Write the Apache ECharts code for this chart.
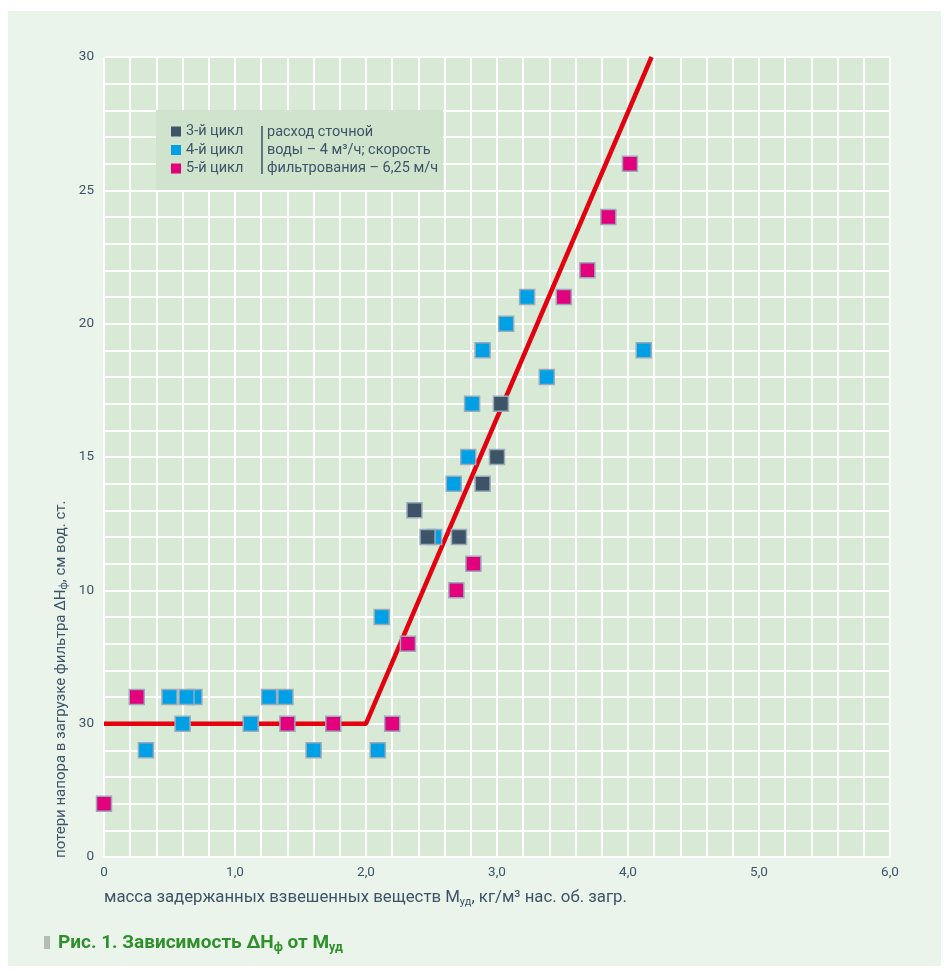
<!DOCTYPE html>
<html>
<head>
<meta charset="utf-8">
<script src="https://cdn.jsdelivr.net/npm/echarts@6/dist/echarts.min.js"></script>
<style>
  html, body { margin: 0; padding: 0; background: #ffffff; }
  #chart { width: 947px; height: 972px; }
</style>
</head>
<body>
<div id="chart"></div>
<script>
// Scatter measurements per filtration cycle: [M_уд, ΔH_ф]
const cycle3 = [[2.37, 13], [2.47, 12], [2.71, 12], [2.89, 14], [3.0, 15], [3.03, 17]];
const cycle4 = [[0.32, 4], [0.50, 6], [0.69, 6], [0.63, 6], [0.60, 5], [1.12, 5], [1.26, 6], [1.385, 6],
                [1.60, 4], [2.09, 4], [2.12, 9], [2.52, 12], [2.67, 14], [2.78, 15], [2.81, 17],
                [2.89, 19], [3.07, 20], [3.23, 21], [3.38, 18], [4.12, 19]];
const cycle5 = [[0, 2], [0.25, 6], [1.40, 5], [1.75, 5], [2.20, 5], [2.32, 8], [2.69, 10], [2.82, 11],
                [3.51, 21], [3.69, 22], [3.85, 24], [4.015, 26]];
// Approximating broken line
const trend = [[0, 5], [2.0, 5], [4.18, 30]];

// Axis tick labels
const xTickLabels = ['0', '1,0', '2,0', '3,0', '4,0', '5,0', '6,0'];
const yTickLabels = ['0', '30', '10', '15', '20', '25', '30'];

const seriesNames = ['3-й цикл', '4-й цикл', '5-й цикл'];
const seriesColors = ['#3d5468', '#00a0e6', '#e2007d'];

const textColor = '#3d5468';
const fontFamily = 'Roboto, "Noto Sans", sans-serif';

const chart = echarts.init(document.getElementById('chart'), null, { renderer: 'canvas' });

function scatter(name, data, color, z) {
  return {
    name: name,
    type: 'scatter',
    data: data,
    symbol: 'rect',
    symbolSize: 15,
    z: z,
    clip: false,
    itemStyle: { color: color, opacity: 1, borderColor: '#9aabbb', borderWidth: 1.5 },
    emphasis: { disabled: true }
  };
}

const option = {
  backgroundColor: '#ffffff',
  animation: false,
  textStyle: { fontFamily: fontFamily },
  grid: {
    left: 104, right: 57, top: 57, bottom: 115,
    show: true, backgroundColor: '#d8e9d5', borderWidth: 0
  },
  xAxis: {
    type: 'value', min: 0, max: 6, interval: 1,
    axisLine: { show: false }, axisTick: { show: false },
    axisLabel: {
      color: textColor, fontSize: 13.5, margin: 9, fontFamily: fontFamily,
      formatter: (v) => xTickLabels[Math.round(v)]
    },
    splitLine: { show: true, lineStyle: { color: '#ffffff', width: 2 } },
    minorTick: { show: false, splitNumber: 5 },
    minorSplitLine: { show: true, lineStyle: { color: '#ffffff', width: 2 } }
  },
  yAxis: {
    type: 'value', min: 0, max: 30, interval: 5,
    axisLine: { show: false }, axisTick: { show: false },
    axisLabel: {
      color: textColor, fontSize: 13.5, margin: 10, fontFamily: fontFamily,
      formatter: (v) => yTickLabels[Math.round(v / 5)]
    },
    splitLine: { show: true, lineStyle: { color: '#ffffff', width: 2 } },
    minorTick: { show: false, splitNumber: 5 },
    minorSplitLine: { show: true, lineStyle: { color: '#ffffff', width: 2 } }
  },
  legend: {
    data: seriesNames,
    orient: 'vertical',
    left: 171, top: 124,
    padding: 0,
    itemWidth: 10, itemHeight: 10, itemGap: 3.5,
    icon: 'rect',
    z: 20,
    selectedMode: false,
    itemStyle: { borderWidth: 0 },
    textStyle: { color: textColor, fontSize: 14.5, fontFamily: fontFamily, padding: [0, 0, 0, 0] }
  },
  graphic: [
    // panel
    { type: 'rect', z: -10, silent: true, shape: { x: 8, y: 11, width: 933, height: 955 },
      style: { fill: '#eaf4ea' } },
    // legend box
    { type: 'rect', z: 15, silent: true, shape: { x: 156, y: 110, width: 287, height: 80 },
      style: { fill: '#cfe3cd' } },
    { type: 'line', z: 16, silent: true, shape: { x1: 262, y1: 126, x2: 262, y2: 174 },
      style: { stroke: textColor, lineWidth: 1.5 } },
    { type: 'text', z: 16, silent: true, x: 267, y: 132,
      style: { text: 'расход сточной', fill: textColor, fontSize: 14.5, fontFamily: fontFamily,
               textVerticalAlign: 'middle' } },
    { type: 'text', z: 16, silent: true, x: 267, y: 150,
      style: { text: 'воды – 4 м³/ч; скорость', fill: textColor, fontSize: 14.5, fontFamily: fontFamily,
               textVerticalAlign: 'middle' } },
    { type: 'text', z: 16, silent: true, x: 267, y: 168,
      style: { text: 'фильтрования – 6,25 м/ч', fill: textColor, fontSize: 14.5, fontFamily: fontFamily,
               textVerticalAlign: 'middle' } },
    // x axis title
    { type: 'text', z: 16, silent: true, x: 104, y: 898,
      style: {
        text: '{m|масса задержанных взвешенных веществ M}{s|уд}{m|, кг/м³ нас. об. загр.}',
        textVerticalAlign: 'middle',
        rich: {
          m: { fill: textColor, fontSize: 16.8, fontFamily: fontFamily },
          s: { fill: textColor, fontSize: 11, fontFamily: fontFamily, padding: [8, 0, 0, 0] }
        }
      } },
    // y axis title
    { type: 'text', z: 16, silent: true, x: 61, y: 858, rotation: Math.PI / 2,
      style: {
        text: '{m|потери напора в загрузке фильтра ΔH}{s|ф}{m|, см вод. ст.}',
        textAlign: 'left', textVerticalAlign: 'middle',
        rich: {
          m: { fill: textColor, fontSize: 15, fontFamily: fontFamily },
          s: { fill: textColor, fontSize: 10, fontFamily: fontFamily, padding: [7, 0, 0, 0] }
        }
      } },
    // figure caption
    { type: 'rect', z: 16, silent: true, shape: { x: 44, y: 936, width: 6, height: 13 },
      style: { fill: '#b4bcb6' } },
    { type: 'text', z: 16, silent: true, x: 58, y: 943,
      style: {
        text: '{m|Рис. 1. Зависимость ΔH}{s|ф}{m| от M}{s|уд}',
        textVerticalAlign: 'middle',
        rich: {
          m: { fill: '#2f8f2c', fontSize: 19, fontWeight: 'bold', fontFamily: fontFamily },
          s: { fill: '#2f8f2c', fontSize: 12.5, fontWeight: 'bold', fontFamily: fontFamily, padding: [9, 0, 0, 0] }
        }
      } }
  ],
  series: [
    {
      name: 'trend',
      type: 'line',
      data: trend,
      symbol: 'none',
      z: 2,
      lineStyle: { color: '#e4000f', width: 4.5 },
      emphasis: { disabled: true }
    },
    scatter(seriesNames[1], cycle4, seriesColors[1], 3),
    scatter(seriesNames[0], cycle3, seriesColors[0], 4),
    scatter(seriesNames[2], cycle5, seriesColors[2], 5)
  ]
};

chart.setOption(option);
</script>
</body>
</html>
